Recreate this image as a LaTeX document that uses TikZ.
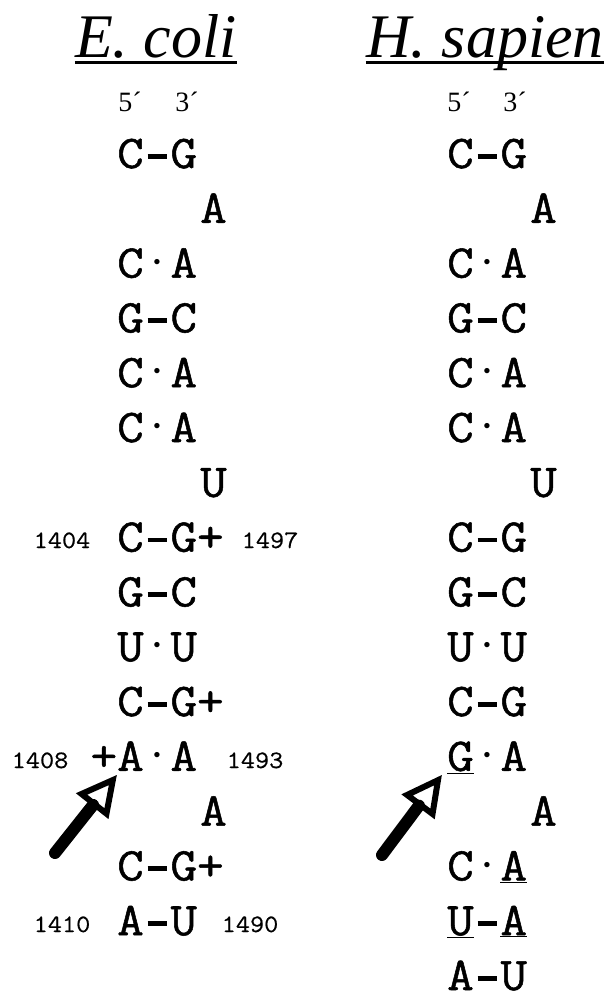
\documentclass[tikz,border=0pt]{standalone}
\usepackage{fontspec}
\setmainfont{Liberation Serif}
\newfontfamily\nucfont{Latin Modern Mono}[FakeStretch=1.1, FakeBold=1.1]
\newfontfamily\numfont{Latin Modern Mono}[FakeStretch=1.1, FakeBold=0.5]
\usepackage{tikz}
\usetikzlibrary{arrows.meta, calc}

\newcommand{\pbond}{\hbox to \fontcharwd\font`\C{\hss\rule[0.2em]{0.4em}{0.1em}\hss}}
\newcommand{\pdot}{\hbox to \fontcharwd\font`\C{\hss\raisebox{0.26em}{\rule{0pt}{0pt}\scalebox{0.55}{$\bullet$}}\hss}}

\begin{document}
\begin{tikzpicture}[
    x=1pt, y=-1pt,
    heading/.style={inner sep=0pt, anchor=base, font=\fontsize{62}{62}\selectfont\itshape},
    endmark/.style={inner sep=0pt, anchor=base, font=\fontsize{28}{28}\selectfont},
    nuc/.style={inner sep=0pt, anchor=base west, font=\fontsize{47}{47}\selectfont\nucfont},
    posnum/.style={inner sep=0pt, anchor=base, font=\fontsize{25}{25}\selectfont\numfont},
    pointer/.style={line width=12pt, line cap=round,
                    -{Triangle[open, length=40pt, width=40pt, line width=6pt]}}
  ]
    \useasboundingbox (0,0) rectangle (608,994);

    % titles
    \node[heading] (ecoli) at (156,57) {E. coli};
    \node[heading] (hsap) at (485,57) {H. sapien};
    \draw[line width=3pt] ($(ecoli.base west)+(0,5)$) -- ($(ecoli.base east)+(0,5)$);
    \draw[line width=3pt] ($(hsap.base west)+(0,5)$) -- ($(hsap.base east)+(0,5)$);

    \node[endmark] (ec5) at (130,111) {5´};
    \node[endmark] (ec3) at (187,111) {3´};
    \node[endmark] (hs5) at (459,111) {5´};
    \node[endmark] (hs3) at (515,111) {3´};

    % E. coli stem
    \foreach \i/\t in {1/C\pbond G, 3/C\pdot A, 4/G\pbond C, 5/C\pdot A, 6/C\pdot A, 8/C\pbond G+,
                       9/G\pbond C, 10/U\pdot U, 11/C\pbond G+, 12/\llap{+}A\pdot A,
                       14/C\pbond G+, 15/A\pbond U}
      \node[nuc] (ec\i) at (117, 113.2+54.8*\i) {\t};
    \foreach \i/\t in {2/A, 7/U, 13/A}
      \node[nuc] (ec\i) at (200, 113.2+54.8*\i) {\t};

    \node[posnum] (n1404) at (62,548) {1404};
    \node[posnum] (n1497) at (270,548) {1497};
    \node[posnum] (n1408) at (40,768) {1408};
    \node[posnum] (n1493) at (255,768) {1493};
    \node[posnum] (n1410) at (62,932) {1410};
    \node[posnum] (n1490) at (250,932) {1490};

    % H. sapien stem
    \foreach \i/\t in {1/C\pbond G, 3/C\pdot A, 4/G\pbond C, 5/C\pdot A, 6/C\pdot A, 8/C\pbond G,
                       9/G\pbond C, 10/U\pdot U, 11/C\pbond G, 12/\underline{G}\pdot A,
                       14/C\pdot\underline{A}, 15/\underline{U}\pbond\underline{A}, 16/A\pbond U}
      \node[nuc] (hs\i) at (447, 113.2+54.8*\i) {\t};
    \foreach \i/\t in {2/A, 7/U, 13/A}
      \node[nuc] (hs\i) at (530, 113.2+54.8*\i) {\t};

    % arrows
    \coordinate (ectail) at (55,853);
    \coordinate (hstail) at (382,855);
    \draw[pointer] (ectail) -- ($(ec12.base west)+(0,4)$);
    \draw[pointer] (hstail) -- ($(hs12.base west)+(-5,4)$);
  \end{tikzpicture}
\end{document}
